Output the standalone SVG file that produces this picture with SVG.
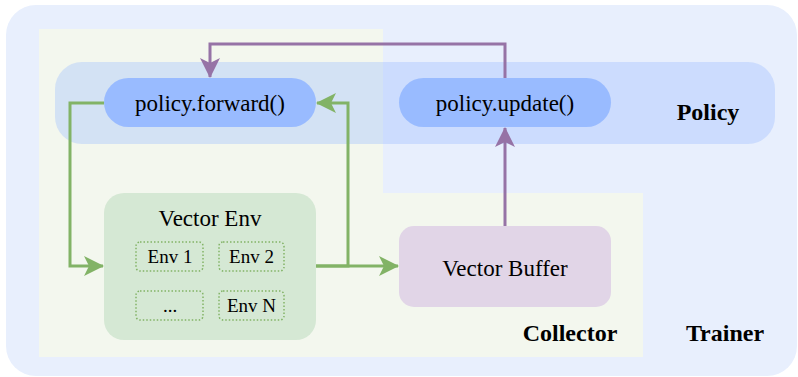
<svg xmlns="http://www.w3.org/2000/svg" width="798" height="377" viewBox="0 0 798 377">
<style>
  .t { font-family: "Liberation Serif", "Times New Roman", serif; font-size: 23px; fill: #000; text-anchor: middle; }
  .s { font-family: "Liberation Serif", "Times New Roman", serif; font-size: 19px; fill: #000; text-anchor: middle; }
  .b { font-family: "Liberation Serif", "Times New Roman", serif; font-size: 24px; font-weight: bold; fill: #000; text-anchor: middle; }
  .pill { fill: #99BBFF; }
  .env { fill: none; stroke: #82B366; stroke-width: 1.5; stroke-dasharray: 1.5 2; }
  .g { fill: none; stroke: #82B366; stroke-width: 3; }
  .p { fill: none; stroke: #9673A6; stroke-width: 3; }
</style>
<defs>
  <marker id="ag" markerUnits="userSpaceOnUse" markerWidth="20" markerHeight="20" viewBox="0 0 20 20" refX="19" refY="10" orient="auto">
    <path d="M0,0 L20,10 L0,20 L5,10 Z" fill="#82B366"/>
  </marker>
  <marker id="ap" markerUnits="userSpaceOnUse" markerWidth="20" markerHeight="20" viewBox="0 0 20 20" refX="19" refY="10" orient="auto">
    <path d="M0,0 L20,10 L0,20 L5,10 Z" fill="#9673A6"/>
  </marker>
</defs>
<g id="trainer">
  <rect x="6" y="5" width="791" height="371" rx="30" fill="#E8EFFD"/>
  <text class="b" x="725" y="341">Trainer</text>
</g>
<g id="collector">
  <path d="M39,29 H383 V193 H643 V357 H39 Z" fill="#F3F7EE"/>
  <text class="b" x="570" y="341">Collector</text>
</g>
<g id="policy">
  <rect x="55" y="62" width="720" height="82" rx="27" fill="#99BBFF" fill-opacity="0.35"/>
  <text class="b" x="708" y="120">Policy</text>
</g>
<g id="forward">
  <rect class="pill" x="104" y="78" width="212" height="49" rx="24.5"/>
  <text class="t" x="210" y="111">policy.forward()</text>
</g>
<g id="update">
  <rect class="pill" x="399" y="78" width="212" height="49" rx="24.5"/>
  <text class="t" x="505" y="111">policy.update()</text>
</g>
<g id="vector-env">
  <rect x="104" y="193" width="212" height="147" rx="20" fill="#D5E8D4"/>
  <text class="t" x="210" y="226">Vector Env</text>
</g>
<g id="env1">
  <rect class="env" x="136" y="242" width="67" height="29" rx="4"/>
  <text class="s" x="170" y="263">Env 1</text>
</g>
<g id="env2">
  <rect class="env" x="219" y="242" width="65" height="29" rx="4"/>
  <text class="s" x="251.5" y="263">Env 2</text>
</g>
<g id="env-dots">
  <rect class="env" x="136" y="291" width="67" height="29" rx="4"/>
  <text class="s" x="170" y="312">...</text>
</g>
<g id="envN">
  <rect class="env" x="219" y="291" width="65" height="29" rx="4"/>
  <text class="s" x="251.5" y="312">Env N</text>
</g>
<g id="vector-buffer">
  <rect x="399" y="226" width="212" height="81" rx="15" fill="#E1D5E7"/>
  <text class="t" x="505" y="276">Vector Buffer</text>
</g>
<g id="connectors">
  <path class="g" d="M104,103 H70 V266 H103" marker-end="url(#ag)"/>
  <path class="g" d="M316,266 H348 V103 H317" marker-end="url(#ag)"/>
  <path class="g" d="M316,266 H398" marker-end="url(#ag)"/>
  <path class="p" d="M505,226 V128" marker-end="url(#ap)"/>
  <path class="p" d="M505,78 V44 H210 V77" marker-end="url(#ap)"/>
</g>
</svg>
